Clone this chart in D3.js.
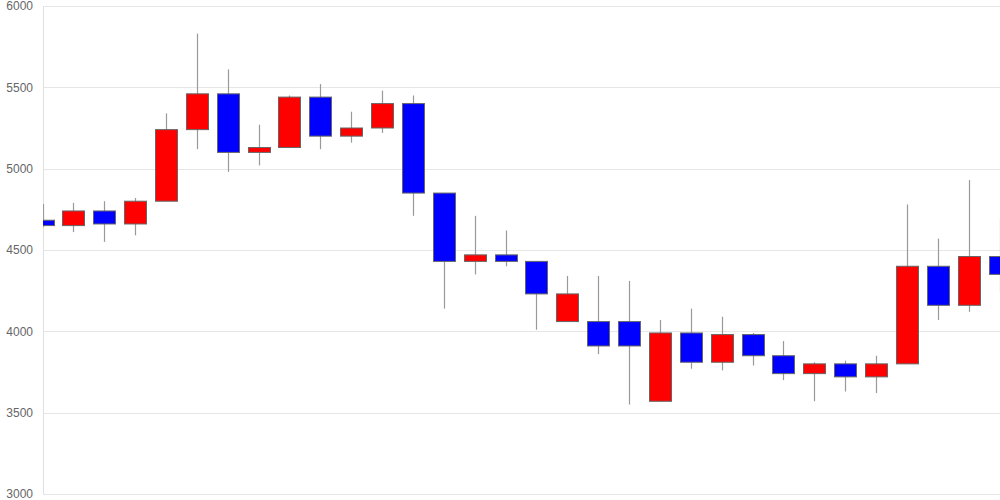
<!DOCTYPE html>
<html><head><meta charset="utf-8">
<script src="https://cdn.jsdelivr.net/npm/d3@7"></script>
<style>html,body{margin:0;padding:0;background:#fff;}svg{display:block;}</style>
</head><body>
<svg id="chart" width="1000" height="500"></svg>
<script>
const opens  = [4683,4650,4740,4660,4800,5240,5460,5100,5130,5440,5200,5250,5400,4850,4430,4470,4430,4060,4060,4060,3570,3990,3810,3980,3850,3740,3800,3720,3800,4400,4160,4460];
const closes = [4650,4740,4660,4800,5240,5460,5100,5130,5440,5200,5250,5400,4850,4430,4470,4430,4230,4230,3910,3910,3990,3810,3980,3850,3740,3800,3720,3800,4400,4160,4460,4350];
const highs  = [4783,4790,4800,4820,5340,5830,5610,5270,5450,5520,5350,5480,5450,4850,4710,4620,4430,4340,4340,4310,4070,4140,4090,3990,3940,3810,3820,3850,4780,4570,4930,4690];
const lows   = [4640,4610,4550,4590,4800,5120,4980,5020,5130,5120,5160,5220,4710,4140,4350,4400,4010,4060,3860,3550,3570,3770,3760,3790,3700,3570,3630,3620,3800,4070,4120,4240];
const yTicks = [3000,3500,4000,4500,5000,5500,6000];

(function () {
const svg = d3.select("#chart");
const mLeft = 43, mRight = 1000, mTop = 6, mBottom = 494;
const idx = d3.range(opens.length);
const x = d3.scalePoint().domain(idx).range([42.5, 999.5]);
const y = d3.scaleLinear().domain([3000, 6000]).range([mBottom, mTop]);

svg.append("g").selectAll("line").data(yTicks).join("line")
  .attr("x1", mLeft).attr("x2", mRight)
  .attr("y1", d => Math.round(y(d)) + 0.5).attr("y2", d => Math.round(y(d)) + 0.5)
  .attr("stroke", "#e6e6e6").attr("stroke-width", 1);

const axis = d3.axisLeft(y).tickValues(yTicks).tickSize(0).tickPadding(10).tickFormat(d3.format("d"));
const gA = svg.append("g").attr("transform", `translate(${mLeft},0)`).call(axis);
gA.select(".domain").remove();
gA.selectAll("text").attr("fill", "#666").style("font-family", "Liberation Sans, Arial, sans-serif").style("font-size", "12px");
svg.append("line").attr("x1", mLeft + 0.5).attr("x2", mLeft + 0.5).attr("y1", mTop).attr("y2", mBottom)
  .attr("stroke", "#e0e0e0");

svg.append("defs").append("clipPath").attr("id", "clip")
  .append("rect").attr("x", mLeft).attr("y", 0).attr("width", mRight - mLeft).attr("height", 500);

const g = svg.append("g").attr("clip-path", "url(#clip)");
const bw = 22;
g.selectAll("line.wick").data(idx).join("line").attr("class", "wick")
  .attr("x1", i => Math.round(x(i)) + 0.5).attr("x2", i => Math.round(x(i)) + 0.5)
  .attr("y1", i => y(highs[i])).attr("y2", i => y(lows[i]))
  .attr("stroke", "#999").attr("stroke-width", 1.2);
g.selectAll("rect.body").data(idx).join("rect").attr("class", "body")
  .attr("x", i => Math.round(x(i) - bw / 2) + 0.5)
  .attr("y", i => y(Math.max(opens[i], closes[i])))
  .attr("width", bw)
  .attr("height", i => Math.max(1, Math.abs(y(opens[i]) - y(closes[i]))))
  .attr("fill", i => closes[i] >= opens[i] ? "#ff0000" : "#0000ff")
  .attr("stroke", "#666").attr("stroke-width", 1);
})();
</script>
</body></html>
